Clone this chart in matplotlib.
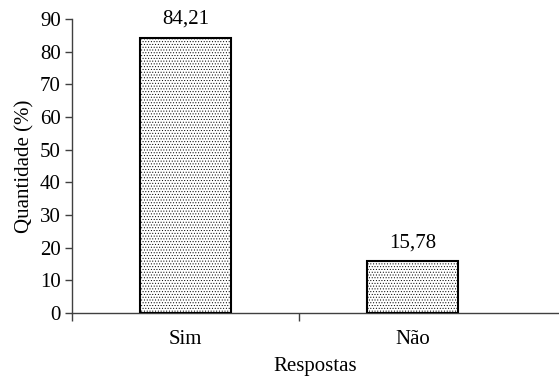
import numpy as np
import matplotlib
matplotlib.use('Agg')
import matplotlib.pyplot as plt

categories = ['Sim', 'Não']
values = [84.21, 15.78]
value_labels = ['84,21', '15,78']
yticks = [0, 10, 20, 30, 40, 50, 60, 70, 80, 90]

plt.rcParams['font.family'] = ['Liberation Serif', 'DejaVu Serif']
plt.rcParams['hatch.color'] = '#555555'
plt.rcParams['hatch.linewidth'] = 0.4

fig = plt.figure(figsize=(5.59, 3.83), dpi=100)
ax = fig.add_axes([72/559, 70/383, 1 - 72/559, 294/383])

x = np.arange(len(categories))
bars = ax.bar(x, values, width=0.40, color='white', edgecolor='black',
              linewidth=1.5, hatch='......', zorder=3)
for b, lab in zip(bars, value_labels):
    ax.text(b.get_x() + b.get_width()/2, b.get_height() + 2.8, lab,
            ha='center', va='bottom', fontsize=15)

ax.set_xlim(-0.5, 1.645)
ax.set_ylim(0, 90)
ax.set_yticks(yticks)
ax.set_xticks(x)
ax.set_xticklabels(categories)
ax.set_xticks([-0.5, 0.5], minor=True)
ax.tick_params(axis='x', which='major', length=0, pad=12, labelsize=15)
ax.tick_params(axis='x', which='minor', length=6, width=1, color='#404040', direction='out')
ax.tick_params(axis='y', length=5, width=1, color='#404040', labelsize=15, pad=3)

for s in ['top', 'right']:
    ax.spines[s].set_visible(False)
for s in ['left', 'bottom']:
    ax.spines[s].set_color('#404040')
    ax.spines[s].set_linewidth(1)

ax.set_xlabel('Respostas', fontsize=15, labelpad=6)
ax.set_ylabel('Quantidade (%)', fontsize=15, labelpad=4)

fig.savefig('out.png', dpi=100)
